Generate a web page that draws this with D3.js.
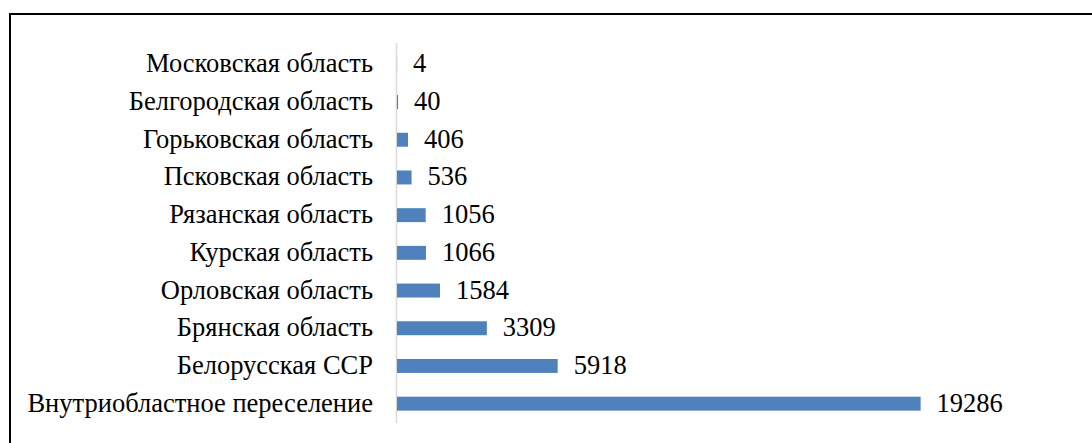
<!DOCTYPE html>
<html><head><meta charset="utf-8">
<script src="https://cdn.jsdelivr.net/npm/d3@7"></script>
<style>body{margin:0;background:#fff}svg{display:block}
text{font-family:"Liberation Serif","Times New Roman",serif;font-size:26.5px;fill:#000}</style>
</head><body>
<script>
const categories = ["Московская область","Белгородская область","Горьковская область","Псковская область","Рязанская область","Курская область","Орловская область","Брянская область","Белорусская ССР","Внутриобластное переселение"];
const values = [4,40,406,536,1056,1066,1584,3309,5918,19286];

const W = 1092, H = 443;
const svg = d3.select("body").append("svg").attr("width", W).attr("height", H);

svg.append("rect").attr("x", 10).attr("y", 14).attr("width", 1100).attr("height", 460)
  .attr("fill", "none").attr("stroke", "#000").attr("stroke-width", 2);

const x = d3.scaleLinear().domain([0, 20000]).range([397, 940]);
const y = d3.scaleBand().domain(categories).range([45.5, 422.5]).paddingInner(0.63).paddingOuter(0.315);

svg.append("line").attr("x1", 396.5).attr("x2", 396.5).attr("y1", 43).attr("y2", 423)
  .attr("stroke", "#d9d9d9").attr("stroke-width", 1.5);

svg.selectAll("rect.bar").data(values).enter().append("rect").attr("class","bar")
  .attr("x", x(0)).attr("y", (d,i) => y(categories[i]))
  .attr("width", d => x(d) - x(0)).attr("height", y.bandwidth())
  .attr("fill", "#4f81bd");

const cy = c => y(c) + y.bandwidth()/2;

svg.selectAll("text.cat").data(categories).enter().append("text").attr("class","cat")
  .attr("x", 373).attr("y", d => cy(d)).attr("dy", "0.3em")
  .attr("text-anchor", "end")
  .text(d => d);

svg.selectAll("text.val").data(values).enter().append("text").attr("class","val")
  .attr("x", d => x(d) + 16).attr("y", (d,i) => cy(categories[i])).attr("dy", "0.3em")
  .text(d => d);
</script>
</body></html>
